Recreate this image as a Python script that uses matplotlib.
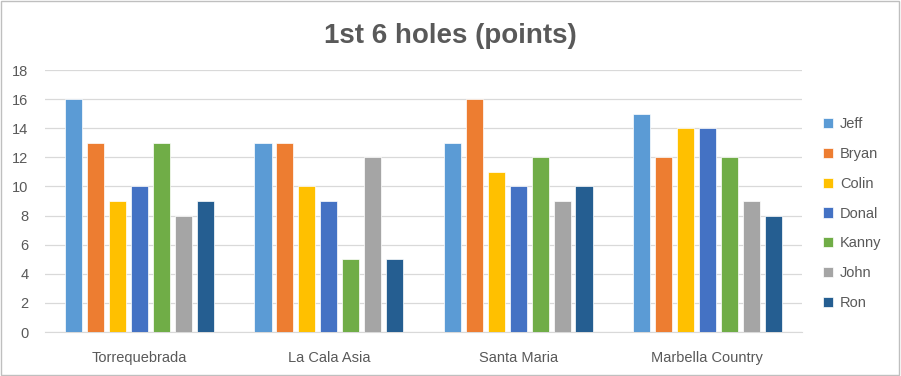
import numpy as np
import matplotlib
matplotlib.use('Agg')
from matplotlib import pyplot as plt

courses = ['Torrequebrada', 'La Cala Asia', 'Santa Maria', 'Marbella Country']
players = ['Jeff', 'Bryan', 'Colin', 'Donal', 'Kanny', 'John', 'Ron']
jeff = [16, 13, 13, 15]
bryan = [13, 13, 16, 12]
colin = [9, 10, 11, 14]
donal = [10, 9, 10, 14]
kanny = [13, 5, 12, 12]
john = [8, 12, 9, 9]
ron = [9, 5, 10, 8]
colors = ['#5B9BD5', '#ED7D31', '#FFC000', '#4472C4', '#70AD47', '#A5A5A5', '#255E91']

series = [jeff, bryan, colin, donal, kanny, john, ron]

plt.rcParams['font.family'] = ['Liberation Sans', 'DejaVu Sans']
txt = '#595959'

fig = plt.figure(figsize=(9.01, 3.76), dpi=100)
ax = fig.add_axes([45 / 901, 1 - 332 / 376, 757 / 901, 262 / 376])

x = np.arange(len(courses))
pitch = 0.116
width = 0.09
for i, (name, vals) in enumerate(zip(players, series)):
    ax.bar(x + (i - 3) * pitch, vals, width, color=colors[i], label=name,
           edgecolor='white', linewidth=0.5, zorder=3)

ax.set_xlim(-0.5, 3.5)
ax.set_ylim(0, 18)
ax.set_yticks(range(0, 19, 2))
ax.set_xticks(x)
ax.set_xticklabels(courses)
ax.tick_params(axis='both', length=0, colors=txt, labelsize=10.5)
ax.tick_params(axis='y', pad=12)
ax.tick_params(axis='x', pad=14)
ax.grid(axis='y', color='#D9D9D9', linewidth=0.9, zorder=0)
for s in ['left', 'right', 'top']:
    ax.spines[s].set_visible(False)
ax.spines['bottom'].set_color('#D9D9D9')

fig.text(0.5, 0.905, '1st 6 holes (points)', ha='center', va='center',
         fontsize=20, fontweight='bold', color=txt)

leg = ax.legend(loc='center left', bbox_to_anchor=(1.01, 0.452), frameon=False,
                fontsize=10.5, labelspacing=1.08, handlelength=0.7, handleheight=0.7,
                handletextpad=0.5)
for t in leg.get_texts():
    t.set_color(txt)

fig.patches.append(plt.Rectangle((0.001, 0.002), 0.997, 0.995, transform=fig.transFigure,
                                 fill=False, edgecolor='#BFBFBF', linewidth=1))

fig.savefig('out.png', dpi=100)
